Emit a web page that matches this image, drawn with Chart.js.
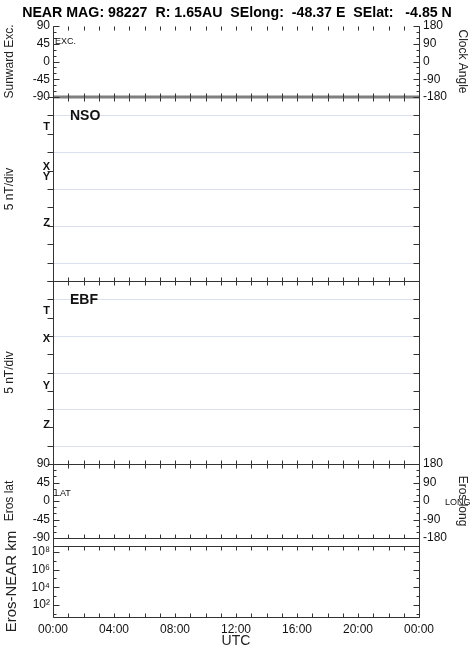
<!DOCTYPE html>
<html>
<head>
<meta charset="utf-8">
<script src="https://cdn.jsdelivr.net/npm/chart.js@4.4.1/dist/chart.umd.min.js"></script>
<style>
  html, body { margin: 0; padding: 0; background: #fff; }
  #wrap { position: relative; width: 474px; height: 656px; }
  #wrap canvas { position: absolute; left: 0; top: 0; }
</style>
</head>
<body>
<div id="wrap">
  <canvas id="p1" width="474" height="656"></canvas>
  <canvas id="p2" width="474" height="656"></canvas>
  <canvas id="p3" width="474" height="656"></canvas>
  <canvas id="p4" width="474" height="656"></canvas>
  <canvas id="p5" width="474" height="656"></canvas>
</div>
<script>
// data
const hours = [0, 24];
const sunwardExc = [-90, -90];
const hourTicks = [0, 1, 2, 3, 4, 5, 6, 7, 8, 9, 10, 11, 12, 13, 14, 15, 16, 17, 18, 19, 20, 21, 22, 23, 24];
const timeTicks = [0, 4, 8, 12, 16, 20, 24];
const timeLabels = ["00:00", "04:00", "08:00", "12:00", "16:00", "20:00", "00:00"];
const angleTicks = [90, 45, 0, -45, -90];
const angleMinor = [75, 60, 30, 15, -15, -30, -60, -75];
const clockTicks = [180, 90, 0, -90, -180];
const clockMinor = [150, 120, 60, 30, -30, -60, -120, -150];
const fieldTicks = [25, 20, 15, 10, 5, 0, -5, -10, -15, -20, -25];
const fieldGrid = [20, 10, 0, -10, -20];
const traceNames = ["T", "X", "Y", "Z"];
const nsoOffsets = [16.8, 6.0, 3.3, -9.2];
const ebfOffsets = [16.8, 9.1, -3.6, -14.3];
const distTicks = [1e2, 1e4, 1e6, 1e8];
const distLabels = ["10\u00b2", "10\u2074", "10\u2076", "10\u2078"];
const distMinor = [1e1, 1e3, 1e5, 1e7];

const FONT = "'Liberation Sans', Arial, Helvetica, sans-serif";
Chart.defaults.font.family = FONT;
Chart.defaults.color = "#111";
Chart.defaults.animation = false;

function line(ctx, x1, y1, x2, y2) {
  ctx.beginPath();
  ctx.moveTo(x1, y1);
  ctx.lineTo(x2, y2);
  ctx.stroke();
}

// frame, inward ticks, grid and small notes for each panel
const frame = {
  id: "frame",
  beforeDatasetsDraw(chart, args, o) {
    const ctx = chart.ctx, a = chart.chartArea, y = chart.scales.y;
    ctx.save();
    ctx.strokeStyle = "#dcdfee";
    ctx.lineWidth = 1;
    (o.grid || []).forEach(v => {
      const py = Math.round(y.getPixelForValue(v)) + 0.5;
      line(ctx, a.left, py, a.right, py);
    });
    ctx.restore();
  },
  afterDraw(chart, args, o) {
    const ctx = chart.ctx, a = chart.chartArea, x = chart.scales.x;
    const L = Math.floor(a.left) + 0.5, R = Math.floor(a.right) + 0.5;
    const T = Math.floor(a.top) + 0.5, B = Math.floor(a.bottom) + 0.5;
    ctx.save();
    ctx.strokeStyle = "#333";
    ctx.lineWidth = 1;
    line(ctx, L, T - (o.extendUp || 0), L, B);
    line(ctx, R, T - (o.extendUp || 0), R, B);
    if (o.topLine) line(ctx, L, T, R, T);
    if (o.bottomLine) line(ctx, L, B, R, B);
    hourTicks.forEach(h => {
      const px = Math.round(x.getPixelForValue(h)) + 0.5;
      line(ctx, px, T, px, T + 4);
      line(ctx, px, B, px, B - 4);
    });
    [["left", L, 1], ["right", R, -1]].forEach(([side, ax, inward]) => {
      const t = o[side];
      if (!t) return;
      const s = chart.scales[t.scale];
      const dir = inward * (t.out ? -1 : 1);
      t.major.forEach(v => {
        const py = Math.round(s.getPixelForValue(v)) + 0.5;
        line(ctx, ax, py, ax + dir * 6, py);
      });
      (t.minor || []).forEach(v => {
        const py = Math.round(s.getPixelForValue(v)) + 0.5;
        line(ctx, ax, py, ax + dir * 3, py);
      });
    });
    (o.notes || []).forEach(n => {
      ctx.font = (n.bold ? "bold " : "") + n.size + "px " + FONT;
      ctx.fillStyle = "#111";
      ctx.textBaseline = "middle";
      ctx.textAlign = "left";
      ctx.fillText(n.text, a.left + n.dx, a.top + n.dy);
    });
    ctx.restore();
  }
};

const hiddenX = { type: "linear", min: 0, max: 24, display: false };

function leftAxis(min, max, ticks, labels, title, opts) {
  opts = opts || {};
  return {
    type: opts.type || "linear",
    position: "left",
    min: min,
    max: max,
    grid: { display: false, drawTicks: false },
    border: { display: false },
    ticks: {
      autoSkip: false,
      padding: 3,
      font: { size: opts.tickSize || 12, weight: opts.bold ? "bold" : "normal" },
      callback: (v, i) => labels[i]
    },
    afterBuildTicks: s => { s.ticks = ticks.map(v => ({ value: v })); },
    afterFit: s => { s.width = 53; },
    title: {
      display: true,
      text: title,
      color: "#222",
      font: { size: opts.titleSize || 12 },
      padding: { top: opts.titlePad || 2.8, bottom: 0 }
    }
  };
}

function rightAxis(title) {
  return {
    type: "linear",
    position: "right",
    min: -180,
    max: 180,
    grid: { display: false, drawTicks: false },
    border: { display: false },
    ticks: {
      autoSkip: false,
      padding: 4,
      font: { size: 12 },
      callback: (v, i) => String(clockTicks[i])
    },
    afterBuildTicks: s => { s.ticks = clockTicks.map(v => ({ value: v })); },
    afterFit: s => { s.width = 55; },
    title: {
      display: true,
      text: title,
      color: "#222",
      font: { size: 12 },
      padding: { top: 4, bottom: 0 }
    }
  };
}

// top panel: sunward excursion / clock angle
new Chart(document.getElementById("p1"), {
  type: "scatter",
  data: {
    datasets: [{
      data: hours.map((h, i) => ({ x: h, y: sunwardExc[i] })),
      showLine: true,
      borderColor: "#7f7f7f",
      borderWidth: 3,
      pointRadius: 0,
      clip: false
    }]
  },
  options: {
    responsive: false,
    layout: { padding: { top: 0, bottom: 656 - 97, left: 0, right: 0 } },
    plugins: {
      legend: { display: false },
      tooltip: { enabled: false },
      title: {
        display: true,
        text: "NEAR MAG: 98227  R: 1.65AU  SElong:  -48.37 E  SElat:   -4.85 N",
        color: "#000",
        font: { size: 14.2, weight: "bold" },
        padding: { top: 4.5, bottom: 4.5 }
      },
      frame: {
        left: { scale: "y", major: angleTicks, minor: angleMinor },
        right: { scale: "y2", major: clockTicks, minor: clockMinor },
        notes: [{ text: "EXC.", size: 9, dx: 2, dy: 15 }]
      }
    },
    scales: {
      x: hiddenX,
      y: leftAxis(-90, 90, angleTicks, angleTicks.map(String), "Sunward Exc."),
      y2: rightAxis("Clock Angle")
    }
  },
  plugins: [frame]
});

// field panels
function fieldPanel(id, top, bottom, name, offsets) {
  new Chart(document.getElementById(id), {
    type: "scatter",
    data: { datasets: [] },
    options: {
      responsive: false,
      layout: { padding: { top: top, bottom: 656 - bottom, left: 0, right: 55 } },
      plugins: {
        legend: { display: false },
        tooltip: { enabled: false },
        frame: {
          bottomLine: true,
          grid: fieldGrid,
          left: { scale: "y", major: fieldTicks, out: true },
          right: { scale: "y", major: fieldTicks },
          notes: [{ text: name, size: 14, bold: true, dx: 17, dy: 19 }]
        }
      },
      scales: {
        x: hiddenX,
        y: leftAxis(-25, 25, offsets, traceNames, "5 nT/div", { bold: true, tickSize: 11 })
      }
    },
    plugins: [frame]
  });
}
fieldPanel("p2", 97, 281, "NSO", nsoOffsets);
fieldPanel("p3", 281, 464, "EBF", ebfOffsets);

// Eros latitude / longitude
new Chart(document.getElementById("p4"), {
  type: "scatter",
  data: { datasets: [] },
  options: {
    responsive: false,
    layout: { padding: { top: 464, bottom: 656 - 538, left: 0, right: 0 } },
    plugins: {
      legend: { display: false },
      tooltip: { enabled: false },
      frame: {
        topLine: true,
        bottomLine: true,
        left: { scale: "y", major: angleTicks, minor: angleMinor },
        right: { scale: "y2", major: clockTicks, minor: clockMinor },
        notes: [
          { text: "LAT", size: 9, dx: 2, dy: 30 },
          { text: "LONG", size: 9, dx: 392, dy: 39 }
        ]
      }
    },
    scales: {
      x: hiddenX,
      y: leftAxis(-90, 90, angleTicks, angleTicks.map(String), "Eros lat"),
      y2: rightAxis("Eros long")
    }
  },
  plugins: [frame]
});

// Eros-NEAR distance with the time axis
new Chart(document.getElementById("p5"), {
  type: "scatter",
  data: { datasets: [] },
  options: {
    responsive: false,
    layout: { padding: { top: 546, bottom: 0, left: 0, right: 55 } },
    plugins: {
      legend: { display: false },
      tooltip: { enabled: false },
      frame: {
        topLine: true,
        bottomLine: true,
        extendUp: 9,
        left: { scale: "y", major: distTicks, minor: distMinor },
        right: { scale: "y", major: distTicks, minor: distMinor }
      }
    },
    scales: {
      x: {
        type: "linear",
        position: "bottom",
        min: 0,
        max: 24,
        grid: { display: false, drawTicks: false },
        border: { display: false },
        ticks: {
          autoSkip: false,
          maxRotation: 0,
          padding: 5,
          font: { size: 12 },
          callback: (v, i) => timeLabels[i]
        },
        afterBuildTicks: s => { s.ticks = timeTicks.map(v => ({ value: v })); },
        afterFit: s => { s.height = 39; },
        title: {
          display: true,
          text: "UTC",
          color: "#222",
          font: { size: 14 },
          padding: { top: 0, bottom: 6 }
        }
      },
      y: leftAxis(4, 5e8, distTicks, distLabels, "Eros-NEAR km", { type: "logarithmic", titleSize: 15, titlePad: 2.5 })
    }
  },
  plugins: [frame]
});
</script>
</body>
</html>
